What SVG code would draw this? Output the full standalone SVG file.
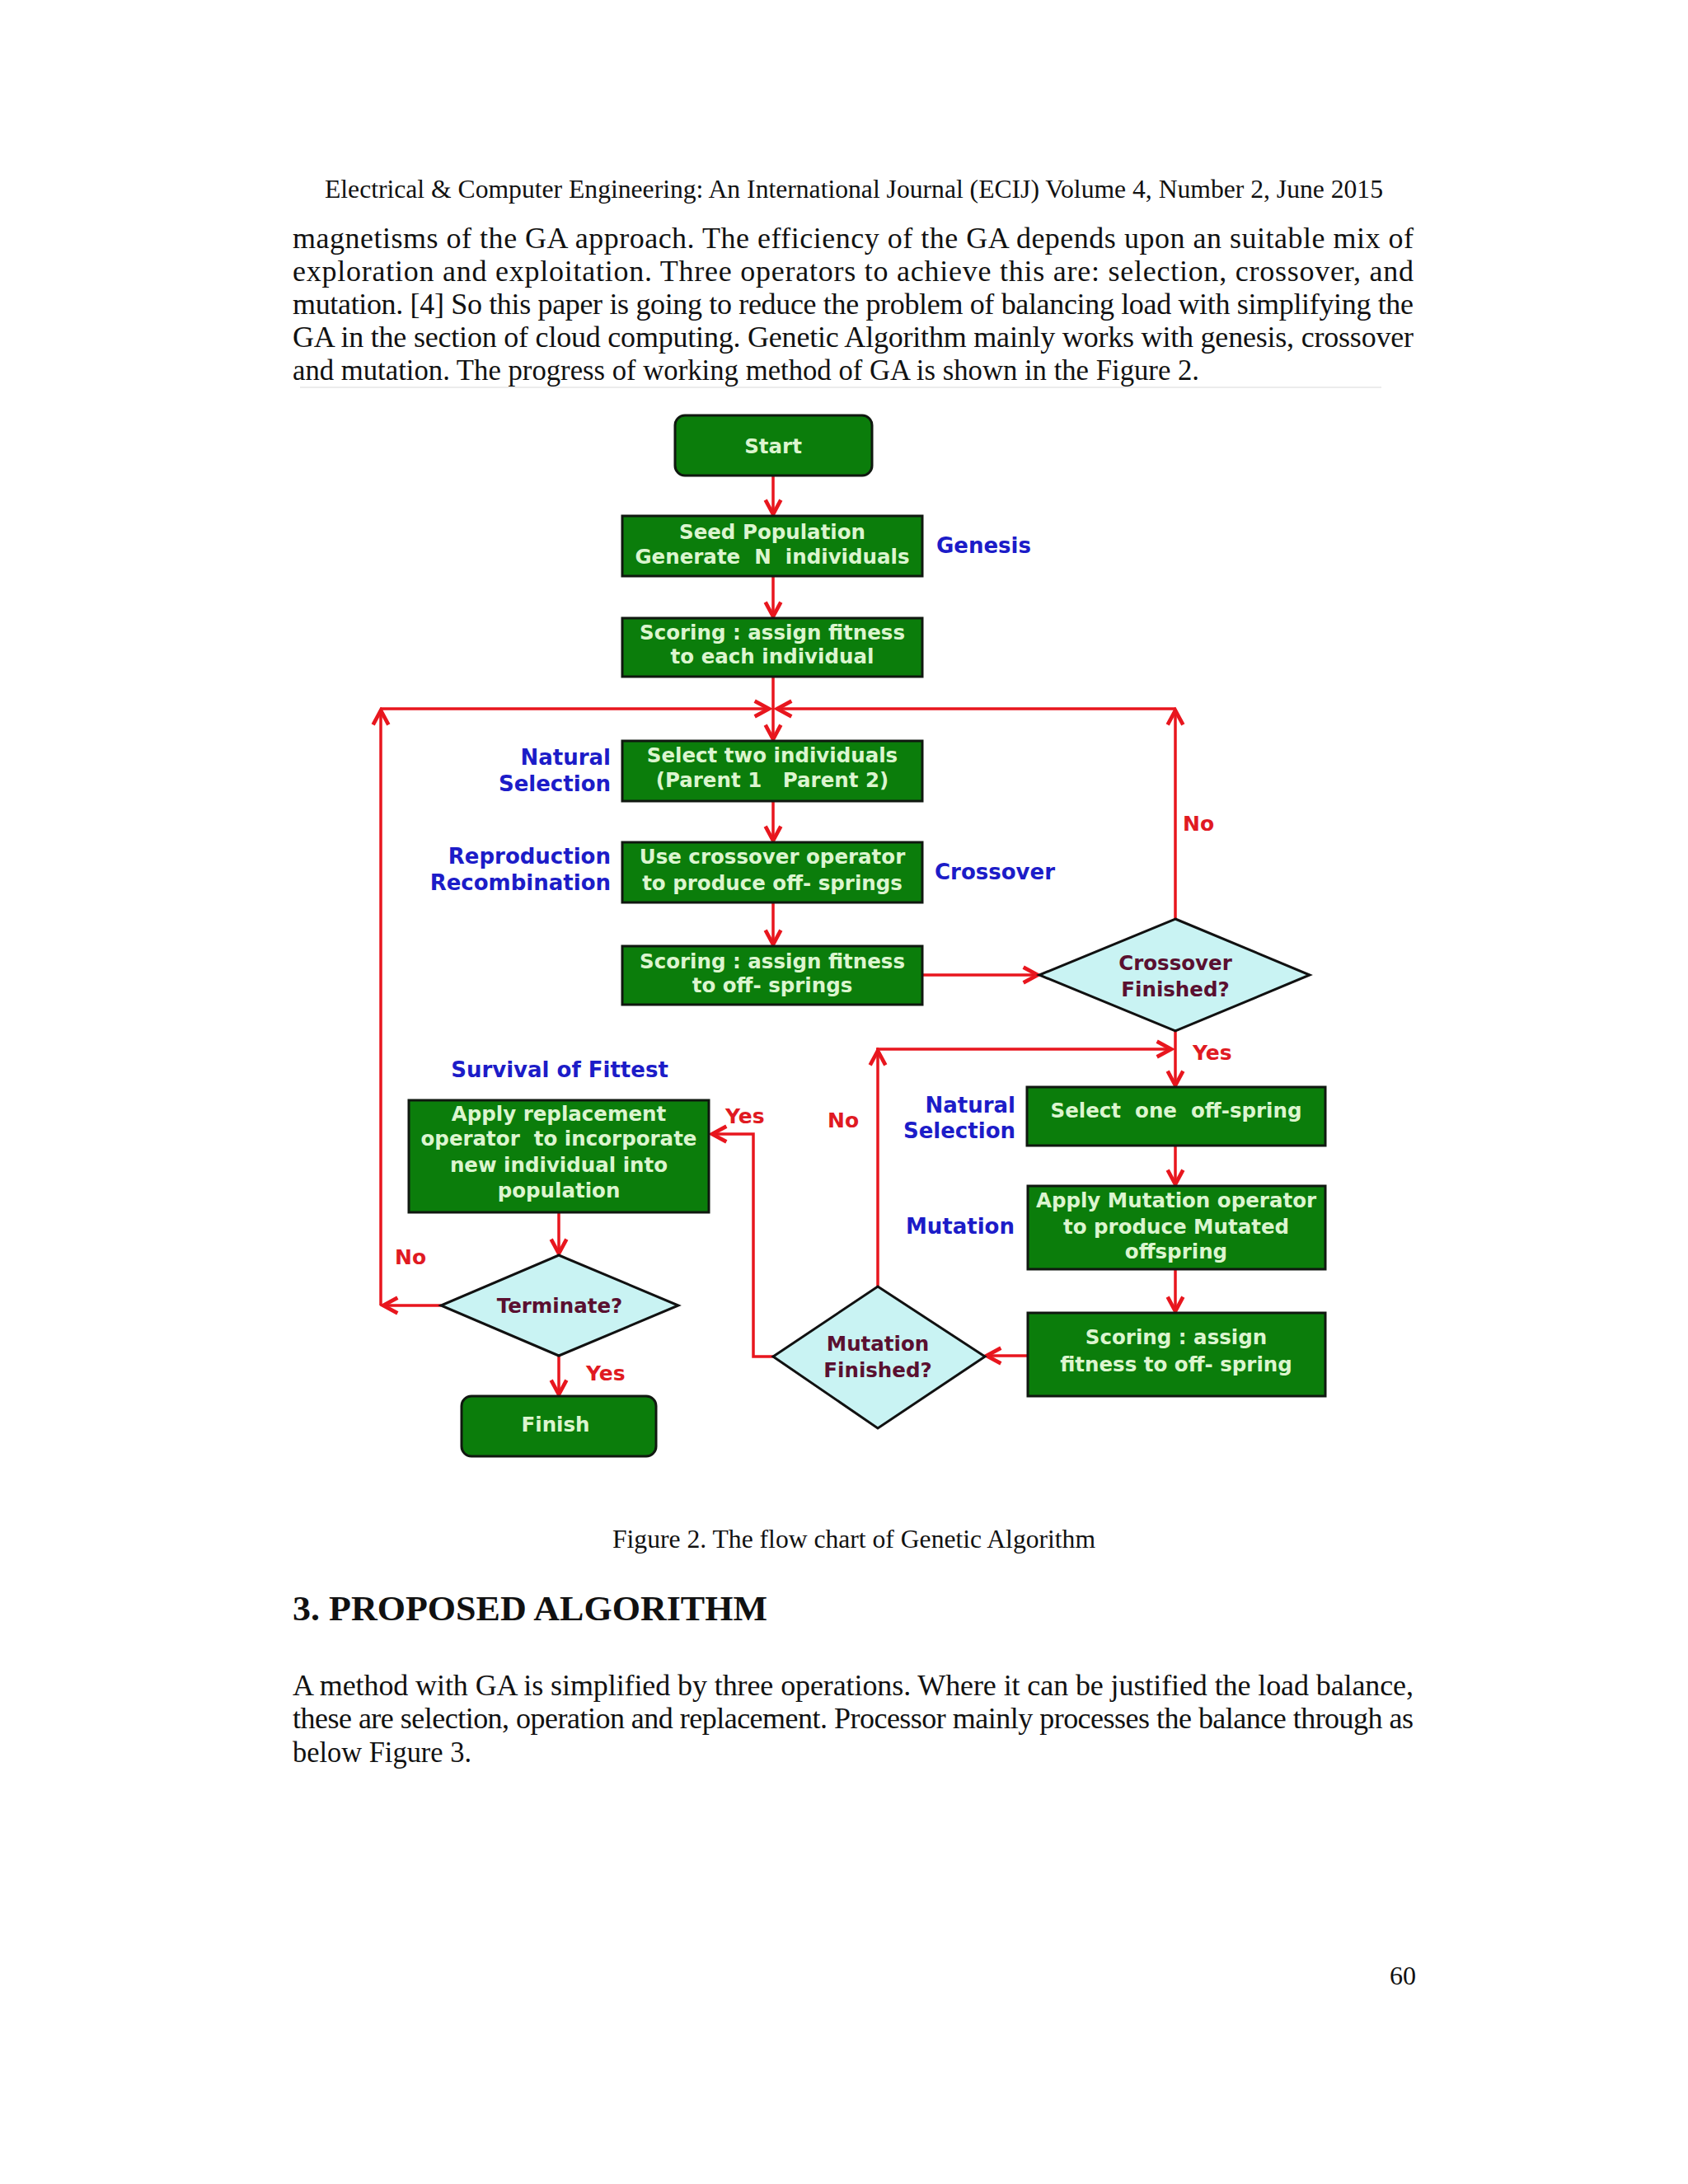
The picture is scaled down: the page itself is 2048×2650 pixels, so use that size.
<svg xmlns="http://www.w3.org/2000/svg" width="2048" height="2650" viewBox="0 0 2048 2650">
<defs>
<style>
.pg{font-family:"Liberation Serif","Times New Roman",serif;fill:#111;}
.bx{fill:#0b7d0b;stroke:#101810;stroke-width:3;}
.dm{fill:#c9f3f3;stroke:#111;stroke-width:3;}
.bt{font-family:"DejaVu Sans",Verdana,sans-serif;font-weight:bold;font-size:24.5px;fill:#dcf5cf;text-anchor:middle;white-space:pre;}
.dt{font-family:"DejaVu Sans",Verdana,sans-serif;font-weight:bold;font-size:24.5px;fill:#5a1030;text-anchor:middle;}
.lb{font-family:"DejaVu Sans",Verdana,sans-serif;font-weight:bold;font-size:26px;fill:#1c1cc8;}
.yn{font-family:"DejaVu Sans",Verdana,sans-serif;font-weight:bold;font-size:25px;fill:#e01a22;}
.cn{fill:none;stroke:#e8161e;stroke-width:3.5;}
</style>
<marker id="ah" markerUnits="userSpaceOnUse" markerWidth="24" markerHeight="24" refX="15" refY="9" orient="auto" viewBox="0 0 18 18">
<path d="M2,2 L15,9 L2,16" fill="none" stroke="#e8161e" stroke-width="3.5"/>
</marker>
</defs>
<rect width="2048" height="2650" fill="#fff"/>

<g id="page-text">
<text class="pg" x="1036" y="240" font-size="31" text-anchor="middle" textLength="1284" lengthAdjust="spacingAndGlyphs">Electrical &amp; Computer Engineering: An International Journal (ECIJ) Volume 4, Number 2, June 2015</text>
<text class="pg" x="355" y="301" font-size="36" textLength="1360" lengthAdjust="spacing">magnetisms of the GA approach. The efficiency of the GA depends upon an suitable mix of</text>
<text class="pg" x="355" y="341" font-size="36" textLength="1360" lengthAdjust="spacing">exploration and exploitation. Three operators to achieve this are: selection, crossover, and</text>
<text class="pg" x="355" y="381" font-size="36" textLength="1360" lengthAdjust="spacing">mutation. [4] So this paper is going to reduce the problem of balancing load with simplifying the</text>
<text class="pg" x="355" y="421" font-size="36" textLength="1360" lengthAdjust="spacing">GA in the section of cloud computing. Genetic Algorithm mainly works with genesis, crossover</text>
<text class="pg" x="355" y="461" font-size="36" textLength="1100" lengthAdjust="spacingAndGlyphs">and mutation. The progress of working method of GA is shown in the Figure 2.</text>
<line x1="364" y1="470" x2="1676" y2="470" stroke="#ececec" stroke-width="2"/>
<text class="pg" x="1036" y="1878" font-size="32" text-anchor="middle" textLength="586" lengthAdjust="spacingAndGlyphs">Figure 2. The flow chart of Genetic Algorithm</text>
<text class="pg" x="355" y="1966" font-size="43" font-weight="bold" textLength="576" lengthAdjust="spacingAndGlyphs">3. PROPOSED ALGORITHM</text>
<text class="pg" x="355" y="2057" font-size="36" textLength="1360" lengthAdjust="spacing">A method with GA is simplified by three operations. Where it can be justified the load balance,</text>
<text class="pg" x="355" y="2097" font-size="36" textLength="1360" lengthAdjust="spacing">these are selection, operation and replacement. Processor mainly processes the balance through as</text>
<text class="pg" x="355" y="2138" font-size="36" textLength="217" lengthAdjust="spacingAndGlyphs">below Figure 3.</text>
<text class="pg" x="1718" y="2408" font-size="32" text-anchor="end">60</text>
</g>

<g id="connectors">
<line class="cn" x1="938" y1="577" x2="938" y2="624" marker-end="url(#ah)"/>
<line class="cn" x1="938" y1="699" x2="938" y2="748" marker-end="url(#ah)"/>
<line class="cn" x1="938" y1="821" x2="938" y2="897" marker-end="url(#ah)"/>
<line class="cn" x1="462" y1="860" x2="933" y2="860" marker-end="url(#ah)"/>
<line class="cn" x1="1426" y1="860" x2="943" y2="860" marker-end="url(#ah)"/>
<line class="cn" x1="938" y1="972" x2="938" y2="1020" marker-end="url(#ah)"/>
<line class="cn" x1="938" y1="1095" x2="938" y2="1146" marker-end="url(#ah)"/>
<line class="cn" x1="1119" y1="1183" x2="1259" y2="1183" marker-end="url(#ah)"/>
<line class="cn" x1="1426" y1="1115" x2="1426" y2="862" marker-end="url(#ah)"/>
<line class="cn" x1="1426" y1="1251" x2="1426" y2="1317" marker-end="url(#ah)"/>
<line class="cn" x1="1426" y1="1390" x2="1426" y2="1437" marker-end="url(#ah)"/>
<line class="cn" x1="1426" y1="1540" x2="1426" y2="1591" marker-end="url(#ah)"/>
<line class="cn" x1="1247" y1="1645" x2="1197" y2="1645" marker-end="url(#ah)"/>
<line class="cn" x1="1065" y1="1561" x2="1065" y2="1275" marker-end="url(#ah)"/>
<line class="cn" x1="1063" y1="1273" x2="1421" y2="1273" marker-end="url(#ah)"/>
<polyline class="cn" points="938,1646 914,1646 914,1376 864,1376" marker-end="url(#ah)"/>
<line class="cn" x1="678" y1="1471" x2="678" y2="1521" marker-end="url(#ah)"/>
<line class="cn" x1="678" y1="1645" x2="678" y2="1692" marker-end="url(#ah)"/>
<line class="cn" x1="535" y1="1584" x2="465" y2="1584" marker-end="url(#ah)"/>
<line class="cn" x1="462" y1="1584" x2="462" y2="862" marker-end="url(#ah)"/>
</g>

<g id="start">
<rect class="bx" x="819" y="504" width="239" height="73" rx="12"/>
<text class="bt" x="938" y="550" font-size="27">Start</text>
</g>
<g id="seed">
<rect class="bx" x="755" y="626" width="364" height="73"/>
<text class="bt" x="937" y="654">Seed Population</text>
<text class="bt" x="937" y="684">Generate  N  individuals</text>
</g>
<g id="scoring1">
<rect class="bx" x="755" y="750" width="364" height="71"/>
<text class="bt" x="937" y="776">Scoring : assign fitness</text>
<text class="bt" x="937" y="805">to each individual</text>
</g>
<g id="select-two">
<rect class="bx" x="755" y="899" width="364" height="73"/>
<text class="bt" x="937" y="925">Select two individuals</text>
<text class="bt" x="937" y="955">(Parent 1   Parent 2)</text>
</g>
<g id="crossover-op">
<rect class="bx" x="755" y="1022" width="364" height="73"/>
<text class="bt" x="937" y="1048">Use crossover operator</text>
<text class="bt" x="937" y="1080">to produce off- springs</text>
</g>
<g id="scoring2">
<rect class="bx" x="755" y="1148" width="364" height="71"/>
<text class="bt" x="937" y="1175">Scoring : assign fitness</text>
<text class="bt" x="937" y="1204">to off- springs</text>
</g>
<g id="crossover-finished">
<polygon class="dm" points="1426,1115 1589,1183 1426,1251 1261,1183"/>
<text class="dt" x="1426" y="1177">Crossover</text>
<text class="dt" x="1426" y="1209">Finished?</text>
</g>
<g id="select-one">
<rect class="bx" x="1246" y="1319" width="362" height="71"/>
<text class="bt" x="1427" y="1356">Select  one  off-spring</text>
</g>
<g id="mutation-op">
<rect class="bx" x="1247" y="1439" width="361" height="101"/>
<text class="bt" x="1427" y="1465">Apply Mutation operator</text>
<text class="bt" x="1427" y="1497">to produce Mutated</text>
<text class="bt" x="1427" y="1527">offspring</text>
</g>
<g id="scoring3">
<rect class="bx" x="1247" y="1593" width="361" height="101"/>
<text class="bt" x="1427" y="1631">Scoring : assign</text>
<text class="bt" x="1427" y="1664">fitness to off- spring</text>
</g>
<g id="mutation-finished">
<polygon class="dm" points="1065,1561 1195,1646 1065,1733 938,1646"/>
<text class="dt" x="1065" y="1639">Mutation</text>
<text class="dt" x="1065" y="1671">Finished?</text>
</g>
<g id="replacement">
<rect class="bx" x="496" y="1335" width="364" height="136"/>
<text class="bt" x="678" y="1360">Apply replacement</text>
<text class="bt" x="678" y="1390">operator  to incorporate</text>
<text class="bt" x="678" y="1422">new individual into</text>
<text class="bt" x="678" y="1453">population</text>
</g>
<g id="terminate">
<polygon class="dm" points="678,1523 823,1584 678,1645 535,1584"/>
<text class="dt" x="679" y="1593">Terminate?</text>
</g>
<g id="finish">
<rect class="bx" x="560" y="1694" width="236" height="73" rx="12"/>
<text class="bt" x="674" y="1737" font-size="27">Finish</text>
</g>

<g id="labels">
<text class="lb" x="1136" y="671">Genesis</text>
<text class="lb" x="741" y="928" text-anchor="end">Natural</text>
<text class="lb" x="741" y="960" text-anchor="end">Selection</text>
<text class="lb" x="741" y="1048" text-anchor="end">Reproduction</text>
<text class="lb" x="741" y="1080" text-anchor="end">Recombination</text>
<text class="lb" x="1134" y="1067">Crossover</text>
<text class="lb" x="679" y="1307" text-anchor="middle">Survival of Fittest</text>
<text class="lb" x="1232" y="1350" text-anchor="end">Natural</text>
<text class="lb" x="1232" y="1381" text-anchor="end">Selection</text>
<text class="lb" x="1231" y="1497" text-anchor="end">Mutation</text>
<text class="yn" x="1435" y="1008">No</text>
<text class="yn" x="1447" y="1286">Yes</text>
<text class="yn" x="1004" y="1368">No</text>
<text class="yn" x="880" y="1363">Yes</text>
<text class="yn" x="479" y="1534">No</text>
<text class="yn" x="711" y="1675">Yes</text>
</g>
</svg>
